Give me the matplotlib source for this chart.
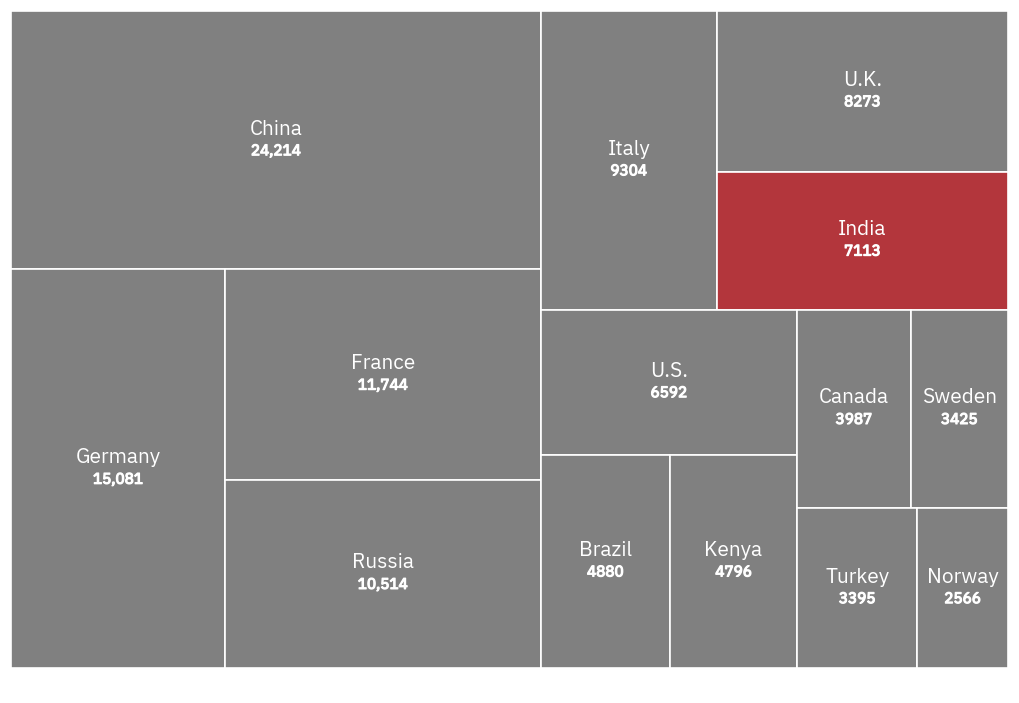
import matplotlib
matplotlib.use("Agg")
import matplotlib.pyplot as plt
import matplotlib.patheffects as pe
from matplotlib.patches import Rectangle

countries = ["China", "Germany", "France", "Russia", "Italy", "U.K.", "India",
             "U.S.", "Brazil", "Kenya", "Canada", "Sweden", "Turkey", "Norway"]
values = [24214, 15081, 11744, 10514, 9304, 8273, 7113,
          6592, 4880, 4796, 3987, 3425, 3395, 2566]
labels = ["24,214", "15,081", "11,744", "10,514", "9304", "8273", "7113",
          "6592", "4880", "4796", "3987", "3425", "3395", "2566"]
highlight = "India"


def binary(idx, x0, y0, x1, y1, out):
    # binary treemap split, like d3.treemapBinary
    if len(idx) == 1:
        out.append((idx[0], x0, y0, x1, y1))
        return
    vals = [values[i] for i in idx]
    total = sum(vals)
    cum, s = [], 0
    for v in vals:
        s += v
        cum.append(s)
    best = min(range(len(idx) - 1), key=lambda k: abs(cum[k] - total / 2))
    left, right = idx[:best + 1], idx[best + 1:]
    f = cum[best] / total
    if (x1 - x0) > (y1 - y0):
        xm = x0 + (x1 - x0) * f
        binary(left, x0, y0, xm, y1, out)
        binary(right, xm, y0, x1, y1, out)
    else:
        ym = y0 + (y1 - y0) * f
        binary(left, x0, y0, x1, ym, out)
        binary(right, x0, ym, x1, y1, out)


W, H = 997, 657
rects = []
binary(list(range(len(values))), 0, 0, W, H, rects)

fig = plt.figure(figsize=(10.2, 7.03), dpi=100)
ax = fig.add_axes([11 / 1020, 1 - 668 / 703, W / 1020, H / 703])
ax.set_xlim(0, W)
ax.set_ylim(H, 0)
ax.axis("off")

fam = ["IBM Plex Sans", "Roboto", "DejaVu Sans"]
fake_bold = [pe.withStroke(linewidth=0.9, foreground="white")]
for i, x0, y0, x1, y1 in rects:
    c = "#b3363c" if countries[i] == highlight else "#808080"
    ax.add_patch(Rectangle((x0, y0), x1 - x0, y1 - y0, facecolor=c,
                           edgecolor="white", linewidth=1.2))
    cx, cy = (x0 + x1) / 2, (y0 + y1) / 2
    ax.text(cx, cy - 11, countries[i], color="white", fontsize=15,
            ha="center", va="center", family=fam)
    ax.text(cx, cy + 11, labels[i], color="white", fontsize=11,
            fontweight="bold", ha="center", va="center", family=fam,
            path_effects=fake_bold)

fig.savefig("out.png", dpi=100)
